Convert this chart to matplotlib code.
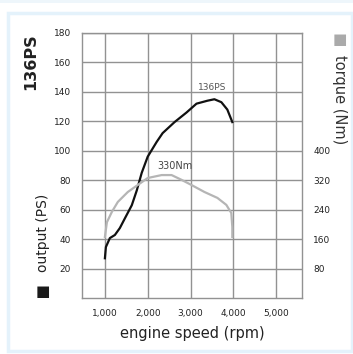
import numpy as np
import matplotlib
matplotlib.use('Agg')
import matplotlib.pyplot as plt
from matplotlib.patches import Rectangle

# power curve (PS)
rpm_power = [1000, 1023, 1116, 1233, 1349, 1465, 1628, 1744, 1860, 2000,
             2209, 2349, 2628, 2907, 3140, 3395, 3558, 3721, 3860, 3977]
power_ps = [27, 34.6, 40.7, 42.8, 47.5, 54, 63, 73, 85, 96,
            106, 112, 119.5, 126, 132, 134, 135, 133, 128, 119.5]

# torque curve (Nm)
rpm_torque = [1000, 1047, 1163, 1302, 1535, 1767, 2000, 2326, 2558, 2791,
              3023, 3326, 3628, 3837, 3953, 3977, 3977]
torque_nm = [166, 206, 234, 261, 288, 307, 326, 334, 334, 321,
             307, 288, 272, 253, 231, 193, 166]

x_ticks = [1000, 2000, 3000, 4000, 5000]
x_labels = ['1,000', '2,000', '3,000', '4,000', '5,000']
ps_ticks = [20, 40, 60, 80, 100, 120, 140, 160, 180]
nm_ticks = [80, 160, 240, 320, 400]

grid_col = '#929292'

fig = plt.figure(figsize=(3.53, 3.54), dpi=100)
fig.patch.set_facecolor('white')

# light blue frame round the panel, plus the thin strip at the very top
fig.patches.append(Rectangle((8 / 353, 3 / 354), 344 / 353, 338 / 354,
                             transform=fig.transFigure, fill=False,
                             edgecolor='#e4f2fb', linewidth=2.5))
fig.patches.append(Rectangle((0, 351 / 354), 1, 3 / 354,
                             transform=fig.transFigure, facecolor='#eef6fb',
                             edgecolor='none'))

ax = fig.add_axes([82 / 353, 56 / 354, 220 / 353, 265 / 354])
ax.set_xlim(465, 5605)
ax.set_ylim(0, 180)
ax.set_xticks(x_ticks)
ax.set_xticklabels(x_labels)
ax.set_yticks(ps_ticks)
ax.tick_params(length=0, labelsize=6.5, colors='#222222', pad=8)
ax.grid(True, color=grid_col, linewidth=1.0)
for s in ax.spines.values():
    s.set_color(grid_col)
    s.set_linewidth(1.0)

ax.plot(rpm_power, power_ps, color='#111111', linewidth=1.6, zorder=4)

ax2 = ax.twinx()
ax2.set_ylim(0, 720)
ax2.set_yticks(nm_ticks)
ax2.tick_params(length=0, labelsize=6.5, colors='#222222', pad=8)
for s in ax2.spines.values():
    s.set_visible(False)
ax2.plot(rpm_torque, torque_nm, color='#b5b5b5', linewidth=1.6, zorder=3)

# peak labels
ax.text(3510, 143, '136PS', fontsize=6.5, color='#555555', ha='center', va='center')
ax.text(2630, 89.5, '330Nm', fontsize=7, color='#444444', ha='center', va='center')

ax.set_xlabel('engine speed (rpm)', fontsize=10.5, color='#222222', labelpad=6)

# side titles
fig.text(31 / 353, 1 - 62 / 354, '136PS', rotation=90, fontsize=11.5,
         fontweight='bold', color='#222222', ha='center', va='center')
fig.text(43 / 353, 1 - 233 / 354, 'output (PS)', rotation=90, fontsize=10,
         color='#222222', ha='center', va='center')
fig.text(43 / 353, 1 - 292 / 354, '\u25a0', fontsize=11, color='#1a1a1a',
         ha='center', va='center')
fig.text(340 / 353, 1 - 100 / 354, 'torque (Nm)', rotation=-90, fontsize=10.5,
         color='#333333', ha='center', va='center')
fig.text(340 / 353, 1 - 40 / 354, '\u25a0', fontsize=11, color='#aaaaaa',
         ha='center', va='center')

plt.savefig('out.png', dpi=100)
